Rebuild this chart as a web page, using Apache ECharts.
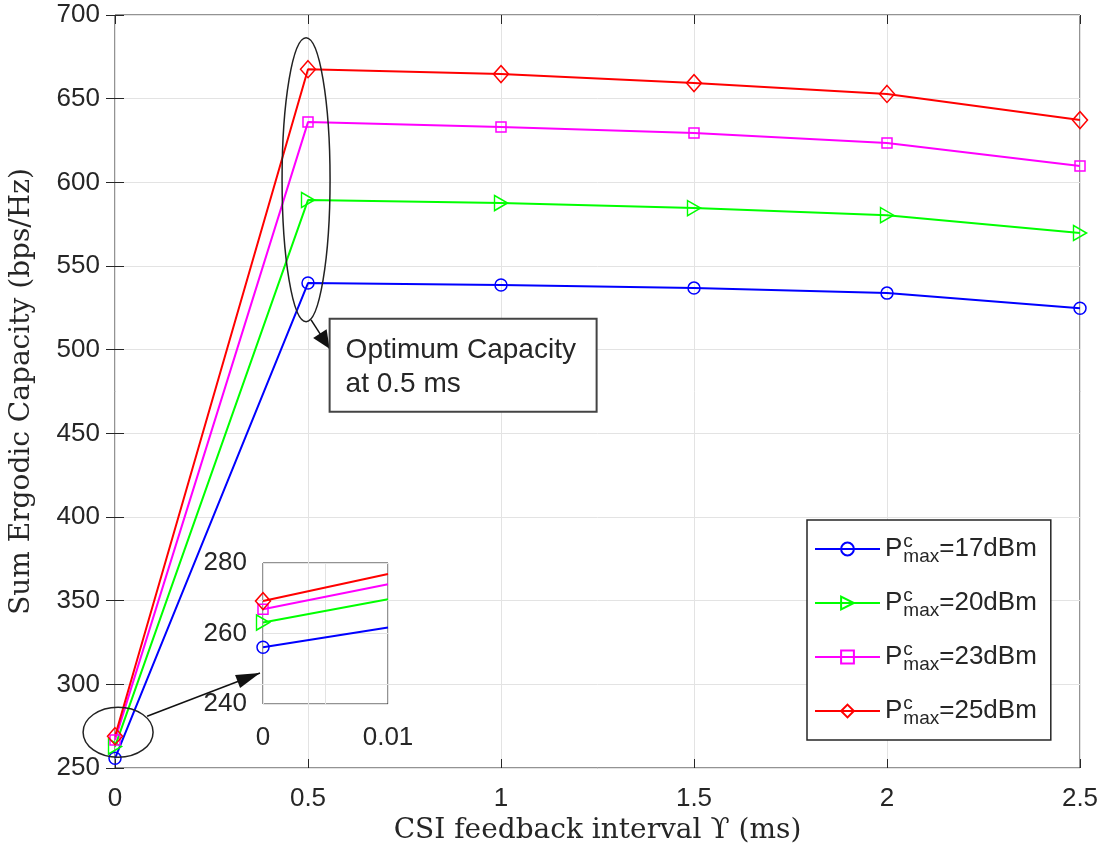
<!DOCTYPE html>
<html>
<head>
<meta charset="utf-8">
<script src="https://cdn.jsdelivr.net/npm/echarts@6/dist/echarts.min.js"></script>
<style>
  html, body { margin: 0; padding: 0; background: #fff; }
  #chart { width: 1102px; height: 859px; }
</style>
</head>
<body>
<div id="chart"></div>
<script>
// CSI feedback interval (ms)
const intervals = [0, 0.5, 1, 1.5, 2, 2.5];
// sum ergodic capacity (bps/Hz) per P^c_max
const cap17 = [255.8, 539.8, 538.6, 536.8, 533.8, 524.8];
const cap20 = [262.8, 589.4, 587.6, 584.6, 580.4, 569.7];
const cap23 = [266.8, 636.0, 633.0, 629.5, 623.5, 609.7];
const cap25 = [269.0, 667.6, 664.7, 659.3, 652.8, 637.2];

// zoomed inset (0 .. 0.01 ms)
const insetX = [0, 0.01];
const inset17 = [256.1, 261.7];
const inset20 = [263.1, 269.7];
const inset23 = [266.9, 274.0];
const inset25 = [269.2, 276.9];

const powers = ['17', '20', '23', '25'];
const colors = ['#0000ff', '#00ff00', '#ff00ff', '#ff0000'];
const symbols = ['circle', 'path://M0,0 L10,6 L0,12 Z', 'rect', 'diamond'];
const symbolSizes = [12, [13, 15], 10, [15, 17]];

const axisColor = '#262626';
const serif = '"DejaVu Serif", "Liberation Serif", serif';
const sans = '"Liberation Sans", Arial, sans-serif';

const chart = echarts.init(document.getElementById('chart'));

function pairs(xs, ys) {
  return xs.map((x, i) => [x, ys[i]]);
}

const mainSeries = [cap17, cap20, cap23, cap25].map((ys, i) => ({
  name: 'P' + powers[i],
  type: 'line',
  xAxisIndex: 0,
  yAxisIndex: 0,
  data: pairs(intervals, ys),
  symbol: symbols[i],
  symbolSize: symbolSizes[i],
  showAllSymbol: true,
  lineStyle: { color: colors[i], width: 2 },
  itemStyle: { color: 'transparent', borderColor: colors[i], borderWidth: 1.5 },
  emphasis: { disabled: true },
  z: 3
}));

// inset: marker only at x = 0
const insetSeries = [inset17, inset20, inset23, inset25].map((ys, i) => ({
  type: 'line',
  xAxisIndex: 2,
  yAxisIndex: 2,
  data: pairs(insetX, ys).map((p, j) => (j === 0 ? { value: p } : { value: p, symbol: 'none' })),
  symbol: symbols[i],
  symbolSize: symbolSizes[i],
  lineStyle: { color: colors[i], width: 2 },
  itemStyle: { color: 'transparent', borderColor: colors[i], borderWidth: 1.5 },
  emphasis: { disabled: true },
  clip: false,
  z: 3
}));

const tickFont = { fontFamily: sans, fontSize: 26, color: axisColor };

const option = {
  animation: false,
  backgroundColor: '#fff',
  grid: [
    { left: 115, right: 22, top: 15, bottom: 91, show: true, borderColor: axisColor, borderWidth: 1 },
    { left: 263, top: 563, width: 125, height: 141, show: true, borderColor: axisColor, borderWidth: 1 }
  ],
  legend: {
    orient: 'vertical',
    left: 807,
    top: 520,
    padding: [12, 14, 12, 7],
    itemGap: 20,
    itemWidth: 65,
    itemHeight: 16,
    backgroundColor: '#fff',
    borderColor: axisColor,
    borderWidth: 1.5,
    borderRadius: 0,
    data: powers.map(p => 'P' + p),
    formatter: name => '{p|P}{sup|c}{sub|max}{t|=' + name.slice(1) + 'dBm}',
    textStyle: {
      color: axisColor,
      rich: {
        p: { fontFamily: sans, fontSize: 26, color: axisColor, lineHeight: 34, verticalAlign: 'middle' },
        sup: { fontFamily: sans, fontSize: 19, color: axisColor, lineHeight: 18, verticalAlign: 'top', width: 0, padding: [0, 0, 0, 1] },
        sub: { fontFamily: sans, fontSize: 19, color: axisColor, lineHeight: 18, verticalAlign: 'bottom' },
        t: { fontFamily: sans, fontSize: 26, color: axisColor, lineHeight: 34, verticalAlign: 'middle' }
      }
    }
  },
  xAxis: [
    {
      gridIndex: 0, type: 'value', min: 0, max: 2.5, interval: 0.5,
      name: 'CSI feedback interval \u03D2 (ms)', nameLocation: 'middle', nameGap: 48,
      nameTextStyle: { fontFamily: serif, fontSize: 28, color: axisColor },
      axisLine: { show: false },
      axisTick: { inside: true, length: 9, lineStyle: { color: axisColor } },
      axisLabel: Object.assign({ margin: 18 }, tickFont),
      splitLine: { lineStyle: { color: '#e3e3e3', width: 1 } }
    },
    {
      gridIndex: 0, type: 'value', position: 'top', min: 0, max: 2.5, interval: 0.5,
      axisLine: { show: false },
      axisTick: { inside: true, length: 9, lineStyle: { color: axisColor } },
      axisLabel: { show: false },
      splitLine: { show: false }
    },
    {
      gridIndex: 1, type: 'value', min: 0, max: 0.01, interval: 0.005,
      axisLine: { show: false },
      axisTick: { show: false },
      axisLabel: Object.assign({
        margin: 21,
        formatter: v => (Math.abs(v - 0.005) < 1e-9 ? '' : String(v))
      }, tickFont),
      splitLine: { lineStyle: { color: '#e3e3e3', width: 1 } }
    }
  ],
  yAxis: [
    {
      gridIndex: 0, type: 'value', min: 250, max: 700, interval: 50,
      name: 'Sum Ergodic Capacity (bps/Hz)', nameLocation: 'middle', nameGap: 79,
      nameTextStyle: { fontFamily: serif, fontSize: 28, color: axisColor },
      axisLine: { show: false },
      axisTick: { inside: true, length: 9, lineStyle: { color: axisColor } },
      axisLabel: Object.assign({ margin: 15 }, tickFont),
      splitLine: { lineStyle: { color: '#e3e3e3', width: 1 } }
    },
    {
      gridIndex: 0, type: 'value', position: 'right', min: 250, max: 700, interval: 50,
      axisLine: { show: false },
      axisTick: { inside: true, length: 9, lineStyle: { color: axisColor } },
      axisLabel: { show: false },
      splitLine: { show: false }
    },
    {
      gridIndex: 1, type: 'value', min: 240, max: 280, interval: 20,
      axisLine: { show: false },
      axisTick: { show: false },
      axisLabel: Object.assign({ margin: 16 }, tickFont),
      splitLine: { lineStyle: { color: '#e3e3e3', width: 1 } }
    }
  ],
  series: mainSeries.concat(insetSeries)
};

chart.setOption(option);

// annotations placed from data coordinates
const topCenter = chart.convertToPixel({ gridIndex: 0 }, [0.495, 601.5]);
const lowCenter = chart.convertToPixel({ gridIndex: 0 }, [0.008, 271.4]);
const boxCorner = chart.convertToPixel({ gridIndex: 0 }, [0.556, 518.5]);

function arrowHead(tip, from, len, half) {
  const dx = tip[0] - from[0], dy = tip[1] - from[1];
  const d = Math.sqrt(dx * dx + dy * dy);
  const ux = dx / d, uy = dy / d;
  const bx = tip[0] - ux * len, by = tip[1] - uy * len;
  return [tip, [bx - uy * half, by + ux * half], [bx + uy * half, by - ux * half]];
}

const upFrom = [topCenter[0] + 5, topCenter[1] + 140];
const upTip = [boxCorner[0], boxCorner[1] + 30];
const lowFrom = [lowCenter[0] + 29, lowCenter[1] - 16];
const lowTip = [260, 673];

chart.setOption({
  graphic: [
    { type: 'ellipse', shape: { cx: topCenter[0], cy: topCenter[1], rx: 24, ry: 142 },
      style: { fill: 'none', stroke: '#222', lineWidth: 1.5 }, z: 10 },
    { type: 'ellipse', shape: { cx: lowCenter[0], cy: lowCenter[1], rx: 35, ry: 25 },
      style: { fill: 'none', stroke: '#222', lineWidth: 1.5 }, z: 10 },
    { type: 'line', shape: { x1: upFrom[0], y1: upFrom[1], x2: upTip[0], y2: upTip[1] },
      style: { stroke: '#111', lineWidth: 1.5 }, z: 10 },
    { type: 'polygon', shape: { points: arrowHead(upTip, upFrom, 18, 8) },
      style: { fill: '#111' }, z: 10 },
    { type: 'line', shape: { x1: lowFrom[0], y1: lowFrom[1], x2: lowTip[0], y2: lowTip[1] },
      style: { stroke: '#111', lineWidth: 1.5 }, z: 10 },
    { type: 'polygon', shape: { points: arrowHead(lowTip, lowFrom, 24, 7) },
      style: { fill: '#111' }, z: 10 },
    { type: 'rect', shape: { x: boxCorner[0], y: boxCorner[1], width: 267, height: 93 },
      style: { fill: '#fff', stroke: '#444', lineWidth: 2 }, z: 10 },
    { type: 'text', x: boxCorner[0] + 16, y: boxCorner[1] + 15,
      style: { text: 'Optimum Capacity\nat 0.5 ms', font: '28px "Liberation Sans", Arial, sans-serif',
        fill: '#262626', lineHeight: 34 }, z: 11 }
  ]
});
</script>
</body>
</html>
